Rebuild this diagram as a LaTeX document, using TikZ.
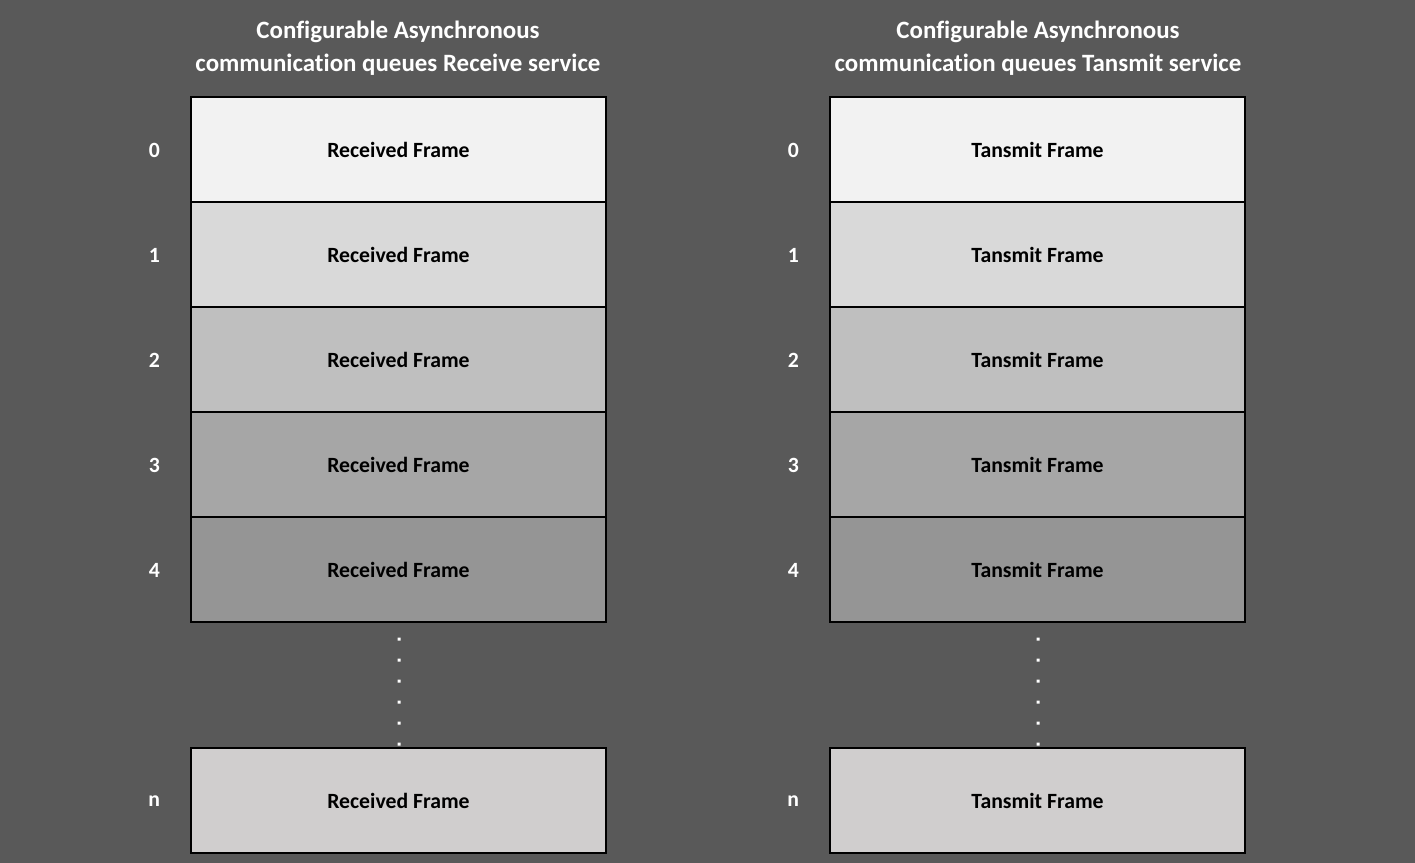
\documentclass[tikz,border=0pt]{standalone}
\usepackage{fontspec}
\setmainfont{Carlito}[Ligatures=CommonOff]
\usetikzlibrary{positioning}
\definecolor{bggray}{HTML}{595959}
\definecolor{shadeA}{HTML}{F2F2F2}
\definecolor{shadeB}{HTML}{D9D9D9}
\definecolor{shadeC}{HTML}{BFBFBF}
\definecolor{shadeD}{HTML}{A6A6A6}
\definecolor{shadeE}{HTML}{959595}
\definecolor{shadeN}{HTML}{D0CECE}
\begin{document}
\begin{tikzpicture}[x=0.75pt, y=-0.75pt]
    % Define styles
    \tikzstyle{frame} = [draw, rectangle, line width=1.5pt, minimum width=311.25pt, minimum height=78.75pt, font=\fontsize{16.3}{18}\selectfont\bfseries]
    \tikzstyle{idx} = [text=white, font=\fontsize{16.3}{18}\selectfont\bfseries]
    \tikzstyle{title} = [text=white, align=center, font=\fontsize{18.7}{24.75}\selectfont\bfseries]

    % Background
    \fill[bggray] (0,0) rectangle (1415,863);
    \useasboundingbox (0,0) rectangle (1415,863);

    % Titles
    \node[title] (rxtitle) at (398,48.5) {Configurable Asynchronous\\communication queues Receive service};
    \node[title] (txtitle) at (1038,48.5) {Configurable Asynchronous\\communication queues Tansmit service};

    % Receive queue
    \node[frame, fill=shadeA] (rx0) at (398.5,149.5) {Received Frame};
    \node[frame, fill=shadeB] (rx1) at (398.5,254.5) {Received Frame};
    \node[frame, fill=shadeC] (rx2) at (398.5,359.5) {Received Frame};
    \node[frame, fill=shadeD] (rx3) at (398.5,464.5) {Received Frame};
    \node[frame, fill=shadeE] (rx4) at (398.5,569.5) {Received Frame};
    \node[frame, fill=shadeN] (rxn) at (398.5,800.5) {Received Frame};

    % Transmit queue
    \node[frame, fill=shadeA] (tx0) at (1037.5,149.5) {Tansmit Frame};
    \node[frame, fill=shadeB] (tx1) at (1037.5,254.5) {Tansmit Frame};
    \node[frame, fill=shadeC] (tx2) at (1037.5,359.5) {Tansmit Frame};
    \node[frame, fill=shadeD] (tx3) at (1037.5,464.5) {Tansmit Frame};
    \node[frame, fill=shadeE] (tx4) at (1037.5,569.5) {Tansmit Frame};
    \node[frame, fill=shadeN] (txn) at (1037.5,800.5) {Tansmit Frame};

    % Index labels
    \node[idx, left=19pt of rx0, yshift=-0.75pt] (rxi0) {0};
    \node[idx, left=19pt of rx1, yshift=-0.75pt] (rxi1) {1};
    \node[idx, left=19pt of rx2, yshift=-0.75pt] (rxi2) {2};
    \node[idx, left=19pt of rx3, yshift=-0.75pt] (rxi3) {3};
    \node[idx, left=19pt of rx4, yshift=-0.75pt] (rxi4) {4};
    \node[idx, left=19pt of rxn, yshift=-0.75pt] (rxin) {n};
    \node[idx, left=19pt of tx0, yshift=-0.75pt] (txi0) {0};
    \node[idx, left=19pt of tx1, yshift=-0.75pt] (txi1) {1};
    \node[idx, left=19pt of tx2, yshift=-0.75pt] (txi2) {2};
    \node[idx, left=19pt of tx3, yshift=-0.75pt] (txi3) {3};
    \node[idx, left=19pt of tx4, yshift=-0.75pt] (txi4) {4};
    \node[idx, left=19pt of txn, yshift=-0.75pt] (txin) {n};

    % Dots between slot 4 and slot n
    \fill[white] (397.5,637.5) rectangle ++(3,3) (397.5,658.5) rectangle ++(3,3)
        (397.5,679.5) rectangle ++(3,3) (397.5,700.5) rectangle ++(3,3)
        (397.5,721.5) rectangle ++(3,3) (397.5,742.5) rectangle ++(3,3);
    \fill[white] (1036.5,637.5) rectangle ++(3,3) (1036.5,658.5) rectangle ++(3,3)
        (1036.5,679.5) rectangle ++(3,3) (1036.5,700.5) rectangle ++(3,3)
        (1036.5,721.5) rectangle ++(3,3) (1036.5,742.5) rectangle ++(3,3);
\end{tikzpicture}
\end{document}
